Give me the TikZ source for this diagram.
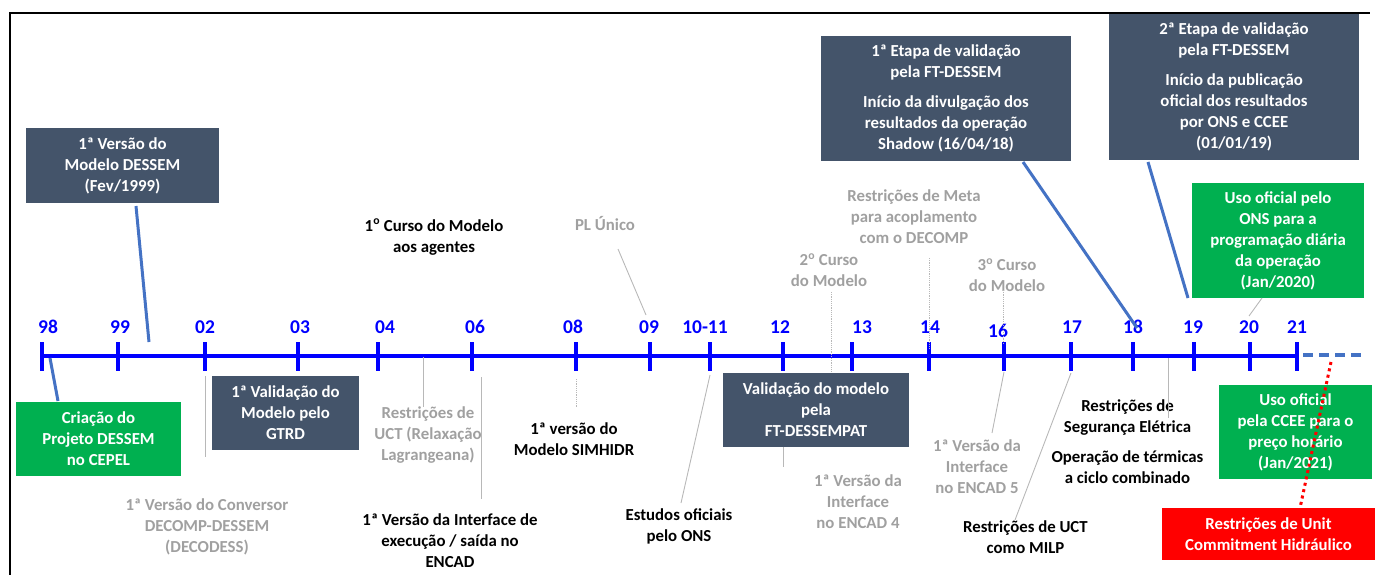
\documentclass[tikz,border=0pt]{standalone}
\usepackage{fontspec}
\setmainfont{Carlito}
\definecolor{slate}{HTML}{44546A}
\definecolor{grnc}{HTML}{00B050}
\definecolor{redc}{HTML}{FF0000}
\definecolor{axisblue}{HTML}{0000FF}
\definecolor{connblue}{HTML}{4472C4}
\definecolor{graytxt}{HTML}{A0A0A0}
\definecolor{grayline}{HTML}{B8B8B8}
\newcommand\myfs{\fontsize{16.8}{21}\selectfont\bfseries}
\tikzset{
  box/.style={inner sep=0pt, align=center, text=white, font=\myfs},
  dark/.style={box, fill=slate},
  grn/.style={box, fill=grnc},
  redbox/.style={box, fill=redc},
  txt/.style={inner sep=0pt, align=center, font=\myfs},
  gtxt/.style={txt, text=graytxt},
  yr/.style={inner sep=0pt, font=\fontsize{19.5}{20}\selectfont\bfseries, text=axisblue},
  conn/.style={line width=3pt, color=connblue},
  gline/.style={line width=0.9pt, color=grayline},
  gdot/.style={gline, dash pattern=on 1.2pt off 1pt},
  tickmark/.style={line width=4pt, color=axisblue},
  axisline/.style={line width=4.5pt, color=axisblue},
  futureline/.style={line width=4pt, color=connblue, dash pattern=on 10pt off 6pt},
  reddots/.style={line width=3pt, color=redc, dash pattern=on 3pt off 3.5pt}
}
\begin{document}
\begin{tikzpicture}[x=1pt,y=-1pt]
\useasboundingbox (0,0) rectangle (1378,575);
% frame
\coordinate (fa) at (10,575);
\coordinate (fb) at (10,13);
\coordinate (fc) at (1370,13);
\draw[line width=2pt, black] (fa) -- (fb) -- (fc);

% axis
\coordinate (t98) at (42,356);
\coordinate (t21) at (1297,356);
\draw[axisline] (t98) -- (t21);
\coordinate (fut1) at (1303,355);
\coordinate (fut2) at (1364,355);
\draw[futureline] (fut1) -- (fut2);
\foreach \n/\x in {98/42, 99/118, 02/205, 03/298, 04/378, 06/472, 08/576, 09/650, 1011/710, 12/783, 13/852, 14/929, 16/1004, 17/1071, 18/1133, 19/1194, 20/1250, 21/1297}{
  \coordinate (k\n a) at (\x,342);
  \coordinate (k\n b) at (\x,371);
  \draw[tickmark] (k\n a) -- (k\n b);
}
\node[yr] (y98) at (48,327) {98};
\node[yr] (y99) at (120,327) {99};
\node[yr] (y02) at (205,327) {02};
\node[yr] (y03) at (300,327) {03};
\node[yr] (y04) at (385,327) {04};
\node[yr] (y06) at (475,327) {06};
\node[yr] (y08) at (573,327) {08};
\node[yr] (y09) at (649,327) {09};
\node[yr] (y1011) at (705,327) {10-11};
\node[yr] (y12) at (780,327) {12};
\node[yr] (y13) at (862,327) {13};
\node[yr] (y14) at (930,327) {14};
\node[yr] (y16) at (998,331) {16};
\node[yr] (y17) at (1072,327) {17};
\node[yr] (y18) at (1133,327) {18};
\node[yr] (y19) at (1193,327) {19};
\node[yr] (y20) at (1249,327) {20};
\node[yr] (y21) at (1297,327) {21};

% boxes
\node[dark, minimum width=193pt, minimum height=75pt] (b99) at (122.5,165.5) {1ª Versão do\\Modelo DESSEM\\(Fev/1999)};
\node[grn, minimum width=165pt, minimum height=74pt] (b98) at (98.5,439) {Criação do\\Projeto DESSEM\\no CEPEL};
\node[dark, minimum width=147pt, minimum height=74pt] (b03) at (285.5,413) {1ª Validação do\\Modelo pelo\\GTRD};
\node[dark, minimum width=186pt, minimum height=74pt] (b12) at (816,410) {Validação do modelo\\pela\\FT-DESSEMPAT};
\node[dark, minimum width=250pt, minimum height=125pt] (b18) at (946,98.5) {1ª Etapa de validação\\pela FT-DESSEM\\[9pt]Início da divulgação dos\\resultados da operação\\Shadow (16/04/18)};
\node[dark, minimum width=250pt, minimum height=146pt] (b19) at (1234,87) {2ª Etapa de validação\\pela FT-DESSEM\\[9pt]Início da publicação\\oficial dos resultados\\por ONS e CCEE\\(01/01/19)};
\node[grn, minimum width=172pt, minimum height=115pt] (b20) at (1278,240.5) {Uso oficial pelo\\ONS para a\\programação diária\\da operação\\(Jan/2020)};
\node[grn, minimum width=153pt, minimum height=94pt] (b21) at (1295.5,432) {Uso oficial\\pela CCEE para o\\preço horário\\(Jan/2021)};
\node[redbox, minimum width=213pt, minimum height=52pt] (bred) at (1268.5,534) {Restrições de Unit\\Commitment Hidráulico};

% text labels
\node[gtxt] (tconv) at (207,527) {1ª Versão do Conversor\\DECOMP-DESSEM\\(DECODESS)};
\node[gtxt] (tuct) at (428,435.5) {Restrições de\\UCT (Relaxação\\Lagrangeana)};
\node[txt] (tenc) at (450,541) {1ª Versão da Interface de\\execução / saída no\\ENCAD};
\node[txt] (tsim) at (574,439) {1ª versão do\\Modelo SIMHIDR};
\node[txt] (test) at (679,526) {Estudos oficiais\\pelo ONS};
\node[gtxt] (tenc4) at (858,502) {1ª Versão da\\Interface\\no ENCAD 4};
\node[txt] (tc1) at (434,237) {1\textsuperscript{o} Curso do Modelo\\aos agentes};
\node[gtxt] (tpl) at (605,224) {PL Único};
\node[gtxt] (tc2) at (829,270) {2\textsuperscript{o} Curso\\do Modelo};
\node[gtxt] (tmeta) at (914,217) {Restrições de Meta\\para acoplamento\\com o DECOMP};
\node[gtxt] (tc3) at (1007,275.5) {3\textsuperscript{o} Curso\\do Modelo};
\node[gtxt] (tenc5) at (977,467) {1ª Versão da\\Interface\\no ENCAD 5};
\node[txt] (tmilp) at (1025.5,537.5) {Restrições de UCT\\como MILP};
\node[txt] (tseg) at (1127.5,442) {Restrições de\\Segurança Elétrica\\[9pt]Operação de térmicas\\a ciclo combinado};

% blue connectors
\coordinate (c99a) at (136,206);
\coordinate (c99b) at (149,342);
\draw[conn] (c99a) -- (c99b);
\coordinate (c98a) at (50,358);
\coordinate (c98b) at (58,401);
\draw[conn] (c98a) -- (c98b);
\coordinate (c18a) at (1023,162);
\coordinate (c18b) at (1137,328);
\draw[conn] (c18a) -- (c18b);
\coordinate (c19a) at (1148,162);
\coordinate (c19b) at (1188,298);
\draw[conn] (c19a) -- (c19b);

% gray connectors
\coordinate (g02a) at (205,376); \coordinate (g02b) at (205,457);
\draw[gline] (g02a) -- (g02b);
\coordinate (guca) at (423,357); \coordinate (gucb) at (423,407);
\draw[gline] (guca) -- (gucb);
\coordinate (g06a) at (481,377); \coordinate (g06b) at (481,499);
\draw[gline] (g06a) -- (g06b);
\coordinate (g08a) at (576,379); \coordinate (g08b) at (576,407);
\draw[gdot] (g08a) -- (g08b);
\coordinate (g10a) at (710,375); \coordinate (g10b) at (681,503);
\draw[gline] (g10a) -- (g10b);
\coordinate (g12a) at (783,447); \coordinate (g12b) at (783,467);
\draw[gline] (g12a) -- (g12b);
\coordinate (gpla) at (618,249); \coordinate (gplb) at (646,315);
\draw[gline] (gpla) -- (gplb);
\coordinate (gc2a) at (831,292); \coordinate (gc2b) at (831,373);
\draw[gdot] (gc2a) -- (gc2b);
\coordinate (g14a) at (929,258); \coordinate (g14b) at (929,350);
\draw[gdot] (g14a) -- (g14b);
\coordinate (g16a) at (1003,290); \coordinate (g16b) at (1003,345);
\draw[gdot] (g16a) -- (g16b);
\coordinate (g16c) at (1004,372); \coordinate (g16d) at (992,433);
\draw[gline] (g16c) -- (g16d);
\coordinate (g17a) at (1071,373); \coordinate (g17b) at (1015,520);
\draw[gline] (g17a) -- (g17b);
\coordinate (gsga) at (1168,358); \coordinate (gsgb) at (1168,418);
\draw[gline] (gsga) -- (gsgb);
\coordinate (g20a) at (1262,298); \coordinate (g20b) at (1249,316);
\draw[gline] (g20a) -- (g20b);

% red dotted
\coordinate (rda) at (1331,362);
\coordinate (rdb) at (1300,508);
\draw[reddots] (rda) -- (rdb);
\end{tikzpicture}
\end{document}
